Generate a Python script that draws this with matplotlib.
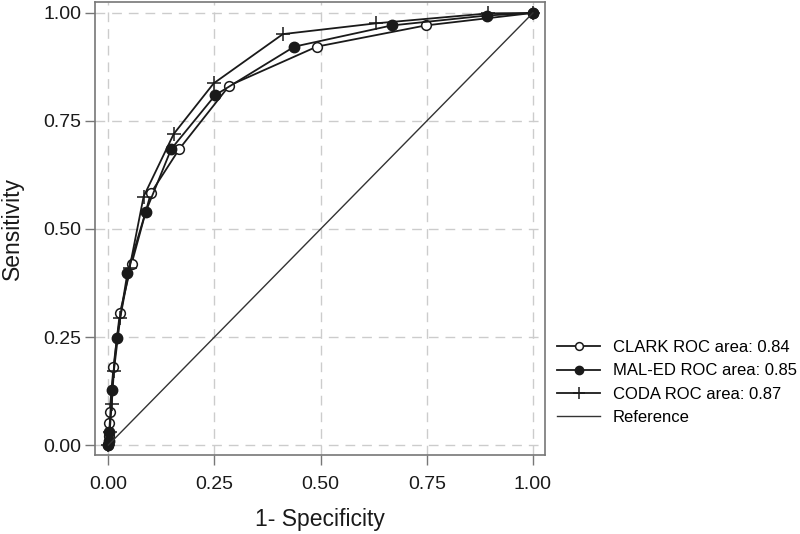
import matplotlib.pyplot as plt
import numpy as np

# ROC points (1 - specificity, sensitivity)
clark_fpr = [0.0, 0.001, 0.002, 0.003, 0.012, 0.027, 0.055, 0.100, 0.167, 0.285, 0.491, 0.747, 1.0]
clark_tpr = [0.0, 0.02, 0.05, 0.077, 0.18, 0.305, 0.42, 0.583, 0.685, 0.832, 0.922, 0.971, 1.0]

maled_fpr = [0.0, 0.001, 0.002, 0.008, 0.020, 0.045, 0.088, 0.148, 0.252, 0.438, 0.667, 0.891, 1.0]
maled_tpr = [0.0, 0.01, 0.03, 0.127, 0.248, 0.399, 0.540, 0.685, 0.810, 0.922, 0.971, 0.994, 1.0]

coda_fpr = [0.0, 0.003, 0.008, 0.013, 0.028, 0.050, 0.083, 0.154, 0.248, 0.411, 0.631, 0.895, 1.0]
coda_tpr = [0.0, 0.03, 0.095, 0.172, 0.295, 0.41, 0.575, 0.72, 0.837, 0.951, 0.976, 0.999, 1.0]

ref_line = [0.0, 1.0]
ticks = [0.0, 0.25, 0.5, 0.75, 1.0]
tick_labels = ["0.00", "0.25", "0.50", "0.75", "1.00"]

plt.rcParams['font.family'] = ['Liberation Sans', 'DejaVu Sans']

fig = plt.figure(figsize=(8, 5.34), dpi=100)
ax = fig.add_axes([0.119, 0.148, 0.562, 0.848])

ax.plot(clark_fpr, clark_tpr, color='#1a1a1a', lw=1.3, marker='o', ms=7,
        mfc='white', mec='#1a1a1a', mew=1.1, label="CLARK ROC area: 0.84")
ax.plot(maled_fpr, maled_tpr, color='#1a1a1a', lw=1.3, marker='o', ms=7.5,
        mfc='#1a1a1a', mec='#1a1a1a', label="MAL-ED ROC area: 0.85")
ax.plot(coda_fpr, coda_tpr, color='#1a1a1a', lw=1.3, marker='+', ms=10,
        mew=1.1, label="CODA ROC area: 0.87")
ax.plot(ref_line, ref_line, color='#333333', lw=1.0, label="Reference")

ax.set_xlim(-0.031, 1.028)
ax.set_ylim(-0.023, 1.025)
ax.set_xticks(ticks)
ax.set_xticklabels(tick_labels)
ax.set_yticks(ticks)
ax.set_yticklabels(tick_labels)
ax.tick_params(direction='out', length=7, width=1, color='#777777',
               labelsize=14, labelcolor='#1a1a1a')
ax.tick_params(axis='x', pad=8)
ax.tick_params(axis='y', pad=3)
ax.grid(True, color='#cccccc', linestyle=(0, (7, 5)), linewidth=1)
for s in ax.spines.values():
    s.set_color('#777777')
    s.set_linewidth(1.2)

ax.set_xlabel("1- Specificity", fontsize=16.5, labelpad=11, color='#1a1a1a')
ax.set_ylabel("Sensitivity", fontsize=16.5, labelpad=14, color='#1a1a1a')

leg = ax.legend(loc='center left', bbox_to_anchor=(1.012, 0.16), frameon=False,
                fontsize=12, handlelength=2.6, handletextpad=0.75,
                labelspacing=0.5, borderaxespad=0.0, markerscale=0.8,
                bbox_transform=ax.transAxes)

fig.savefig("out.png", dpi=100)
